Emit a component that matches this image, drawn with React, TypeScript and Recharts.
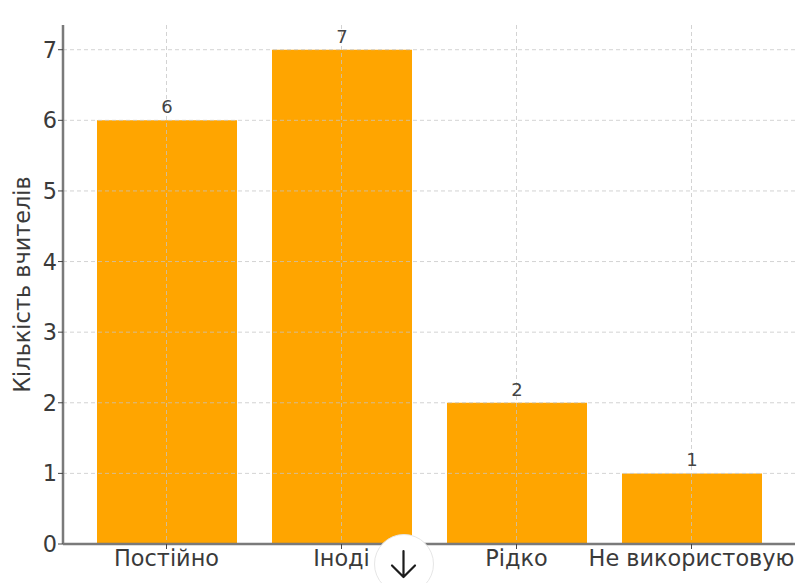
import React from "react";
import { BarChart, Bar, XAxis, YAxis, CartesianGrid, LabelList, Label } from "recharts";

// Teacher survey: how often the tool is used
const categories = ["Постійно", "Іноді", "Рідко", "Не використовую"];
const teacherCounts = [6, 7, 2, 1];
const yTicks = [0, 1, 2, 3, 4, 5, 6, 7];
const yAxisTitle = "Кількість вчителів";

const rows = categories.map((name, i) => ({ name, count: teacherCounts[i] }));

const fontFamily = "'DejaVu Sans', sans-serif";
const textColor = "#3a3a3a";
const axisColor = "#7a7a7a";

export default function App() {
  return (
    <div style={{ position: "absolute", left: 0, top: 0, width: 797, height: 583, background: "#fff", overflow: "hidden" }}>
      <BarChart
        width={797}
        height={583}
        data={rows}
        margin={{ top: 25, right: 2, bottom: 0, left: 0 }}
        barCategoryGap={35}
      >
        <XAxis
          dataKey="name"
          interval={0}
          padding={{ left: 16, right: 16 }}
          height={39}
          axisLine={{ stroke: axisColor, strokeWidth: 2.5 }}
          tickLine={{ stroke: "#444", strokeWidth: 1 }}
          tickSize={5}
          tick={{ fill: textColor, fontSize: 22.4, fontFamily }}
          tickMargin={1}
          zIndex={600}
        />
        <YAxis
          type="number"
          domain={[0, 7.35]}
          ticks={yTicks}
          width={63}
          allowDecimals={false}
          axisLine={{ stroke: axisColor, strokeWidth: 2.5 }}
          tickLine={{ stroke: "#444", strokeWidth: 1 }}
          tickSize={5}
          tick={{ fill: textColor, fontSize: 22.4, fontFamily }}
          tickMargin={1}
          zIndex={600}
        >
          <Label
            value={yAxisTitle}
            angle={-90}
            position="insideLeft"
            offset={0}
            style={{ textAnchor: "middle", fill: textColor, fontSize: 22.4, fontFamily }}
            dx={22}
          />
        </YAxis>
        <Bar dataKey="count" fill="#FFA500" barSize={140} isAnimationActive={false}>
          <LabelList
            dataKey="count"
            position="top"
            offset={7}
            style={{ fill: "#444", fontSize: 18, fontFamily }}
          />
        </Bar>
        {/* Grid sits above the bars, below the value labels */}
        <CartesianGrid stroke="#c4c4c4" strokeOpacity={0.75} strokeDasharray="4 3" strokeWidth={1} syncWithTicks zIndex={500} />
      </BarChart>
      {/* Round scroll-down button overlapping the bottom edge */}
      <svg width={797} height={583} style={{ position: "absolute", left: 0, top: 0, pointerEvents: "none" }}>
        <circle cx={404} cy={564} r={29.5} fill="#fff" stroke="#e6e6e6" strokeWidth={1} />
        <path
          d="M403.5 551 V576 M392 565.5 L403.5 577 L415 565.5"
          fill="none"
          stroke="#1c1c1c"
          strokeWidth={2.2}
          strokeLinecap="round"
          strokeLinejoin="round"
        />
      </svg>
    </div>
  );
}
